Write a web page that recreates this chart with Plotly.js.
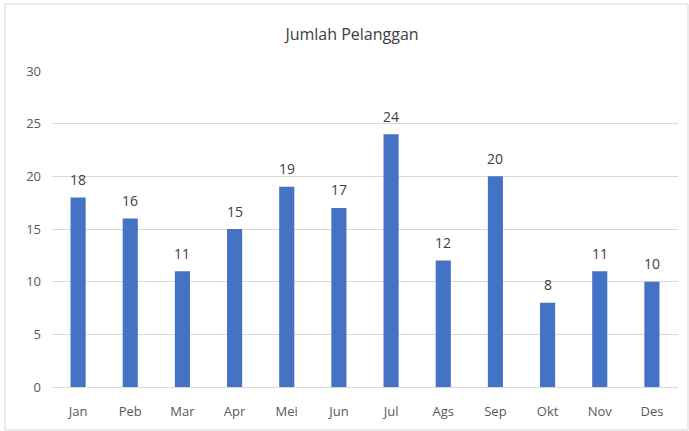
<!DOCTYPE html>
<html><head><meta charset="utf-8">
<script src="https://cdn.plot.ly/plotly-3.0.1.min.js"></script>
<style>html,body{margin:0;padding:0;background:#fff;}#c{width:689px;height:431px;}</style>
</head><body><div id="c"></div>
<script>
var months = ["Jan","Peb","Mar","Apr","Mei","Jun","Jul","Ags","Sep","Okt","Nov","Des"];
var pelanggan = [18,16,11,15,19,17,24,12,20,8,11,10];
var yTicks = [0,5,10,15,20,25,30];
var chartTitle = "Jumlah Pelanggan";

var W = 689, H = 431, mL = 52, mR = 11, mT = 71, mB = 44;
var pw = W - mL - mR, ph = H - mT - mB;
function px(x){return (x - mL)/pw;}
function py(y){return (H - mB - y)/ph;}

var trace = {
  type: "bar", x: months, y: pelanggan,
  marker: {color: "#4472C4"},
  hoverinfo: "none"
};
var labels = months.map(function(m, i){
  return {x: m, y: pelanggan[i], xref: "x", yref: "y", text: String(pelanggan[i]),
          showarrow: false, yanchor: "middle", xanchor: "center", yshift: 18,
          font: {family: "Open Sans, Liberation Sans, sans-serif", size: 14, color: "#404040"}};
});
var layout = {
  width: W, height: H,
  margin: {l: mL, r: mR, t: mT, b: mB, pad: 0},
  paper_bgcolor: "#fff", plot_bgcolor: "#fff",
  bargap: 0.71,
  showlegend: false,
  font: {family: "Open Sans, Liberation Sans, sans-serif", color: "#595959", size: 13},
  title: {text: chartTitle, x: px(352), xref: "paper", xanchor: "center", y: 1 - 34/H, yanchor: "middle",
          font: {size: 16, color: "#404040"}},
  xaxis: {type: "category", showgrid: false, zeroline: false, showline: false, ticks: "",
          tickfont: {size: 13, color: "#595959"}, ticklabelstandoff: 15, fixedrange: true},
  yaxis: {range: [0, 30], tickvals: yTicks, showgrid: true, gridcolor: "#d9d9d9", gridwidth: 1,
          zeroline: true, zerolinecolor: "#d9d9d9", zerolinewidth: 1, showline: false, ticks: "",
          tickfont: {size: 13, color: "#595959"}, ticklabelstandoff: 10, fixedrange: true},
  annotations: labels,
  shapes: [{type: "rect", xref: "paper", yref: "paper", x0: px(5), x1: px(688), y0: py(430), y1: py(4),
            line: {color: "#d9d9d9", width: 1}, fillcolor: "rgba(0,0,0,0)", layer: "below"}]
};
Plotly.newPlot("c", [trace], layout, {displayModeBar: false, staticPlot: true});
</script></body></html>
